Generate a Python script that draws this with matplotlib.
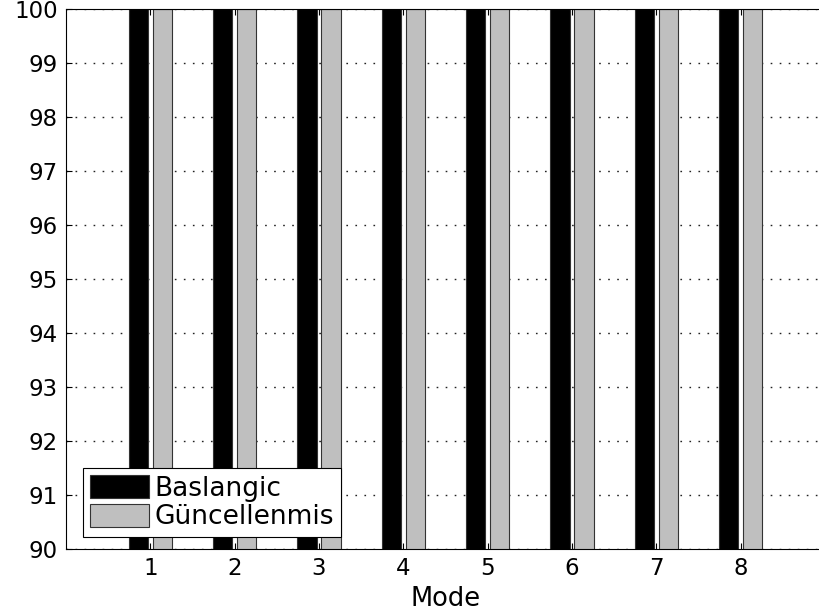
import matplotlib.pyplot as plt
import numpy as np

plt.rcParams['font.family'] = ['DejaVu Sans']

modes = [1, 2, 3, 4, 5, 6, 7, 8]
# every bar runs past the top of the axis, so the true height can't be read
baslangic = [100, 100, 100, 100, 100, 100, 100, 100]
guncellenmis = [100, 100, 100, 100, 100, 100, 100, 100]
labels = ['Baslangic', 'Güncellenmis']

W, H = 819, 615
fig = plt.figure(figsize=(W / 100, H / 100), dpi=100)
# axis runs slightly past the right edge of the picture, like the original
ax = fig.add_axes([66 / W, (H - 549) / H, 759 / W, 540 / H])

x = np.array(modes)
bw = 0.2286
ax.bar(x - 0.143, baslangic, bw, color='black', edgecolor='#333333',
       linewidth=0.8, label=labels[0], zorder=3)
ax.bar(x + 0.143, guncellenmis, bw, color='#bfbfbf', edgecolor='#333333',
       linewidth=0.8, label=labels[1], zorder=3)

ax.set_xlim(0, 9)
ax.set_ylim(90, 100)
ax.set_xticks(modes)
ax.set_yticks(range(90, 101))
ax.yaxis.grid(True, linestyle=(0, (1.2, 5.3)), color='#222222', linewidth=1.0, zorder=0)
ax.set_axisbelow(True)
ax.tick_params(direction='in', top=True, right=True, length=4, width=0.8,
               labelsize=16.5, pad=6)
for sp in ax.spines.values():
    sp.set_linewidth(0.8)
    sp.set_zorder(4)
ax.set_xlabel('Mode', fontsize=18.5, labelpad=4)

leg = ax.legend(loc='lower left', bbox_to_anchor=(0.0224, 0.0222),
                borderaxespad=0, fontsize=19, fancybox=False, framealpha=1,
                edgecolor='black', handlelength=2.25, handleheight=0.97,
                handletextpad=0.22, labelspacing=0.08, borderpad=0.25)
leg.get_frame().set_linewidth(0.8)

fig.savefig('out.png', dpi=100)
